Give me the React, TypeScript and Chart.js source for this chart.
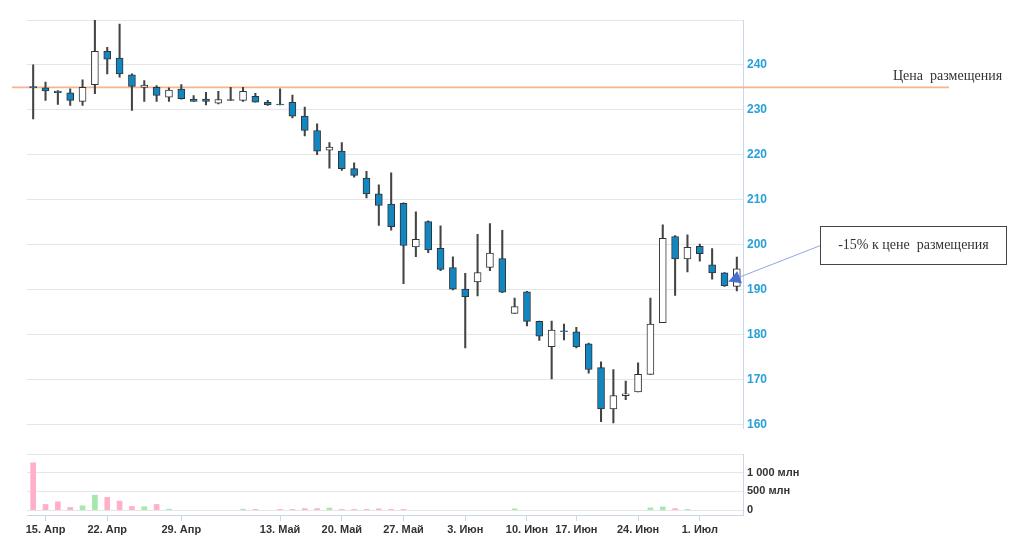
import React, { useEffect, useRef } from "react";
import { Chart, registerables } from "chart.js";

Chart.register(...registerables);

// ---- data ----
const dates = [
  "12. Апр", "15. Апр", "16. Апр", "17. Апр", "18. Апр", "19. Апр", "22. Апр", "23. Апр", "24. Апр", "25. Апр",
  "26. Апр", "27. Апр", "29. Апр", "30. Апр", "2. Май", "3. Май", "6. Май", "7. Май", "8. Май", "10. Май",
  "13. Май", "14. Май", "15. Май", "16. Май", "17. Май", "20. Май", "21. Май", "22. Май", "23. Май", "24. Май",
  "27. Май", "28. Май", "29. Май", "30. Май", "31. Май", "3. Июн", "4. Июн", "5. Июн", "6. Июн", "7. Июн",
  "10. Июн", "11. Июн", "13. Июн", "14. Июн", "17. Июн", "18. Июн", "19. Июн", "20. Июн", "21. Июн", "24. Июн",
  "25. Июн", "26. Июн", "27. Июн", "28. Июн", "1. Июл", "2. Июл", "3. Июл", "4. Июл",
];

const opens = [
  235.2, 234.9, 234.2, 233.8, 231.9, 235.6, 243.0, 241.5, 237.8, 235.0,
  235.0, 232.8, 234.6, 232.4, 232.4, 231.5, 232.3, 232.1, 233.0, 231.7,
  231.3, 231.7, 228.6, 225.4, 221.0, 220.8, 216.9, 214.8, 211.3, 209.0,
  209.2, 199.5, 205.1, 199.2, 194.9, 190.1, 191.7, 194.9, 196.9, 184.7,
  189.5, 182.9, 177.3, 180.8, 180.6, 177.9, 172.6, 163.4, 166.4, 167.2,
  171.1, 182.6, 201.8, 196.8, 199.6, 195.5, 193.7, 190.7,
];
const highs = [
  240.0, 236.2, 234.3, 234.7, 236.7, 250.2, 243.9, 249.1, 238.0, 236.5,
  235.4, 234.9, 235.6, 233.2, 233.9, 234.1, 235.0, 235.0, 233.7, 232.1,
  234.7, 233.3, 230.6, 226.9, 222.7, 222.7, 218.2, 216.3, 213.3, 216.0,
  209.3, 207.3, 205.3, 204.2, 197.3, 193.6, 202.3, 204.7, 203.2, 188.1,
  189.6, 183.0, 183.0, 182.3, 181.6, 178.1, 173.9, 172.2, 169.6, 173.7,
  188.1, 204.4, 202.0, 202.2, 200.1, 199.1, 193.8, 197.2,
];
const lows = [
  228.0, 232.1, 231.2, 231.0, 231.0, 233.6, 238.0, 237.3, 229.9, 231.9,
  231.9, 231.9, 232.4, 231.9, 231.1, 231.3, 232.1, 231.9, 231.7, 231.0,
  231.1, 228.2, 224.2, 220.0, 217.0, 216.5, 215.0, 210.4, 204.3, 203.2,
  191.3, 197.3, 198.2, 194.2, 189.9, 177.0, 188.6, 194.2, 189.3, 184.7,
  181.9, 178.7, 170.1, 178.8, 177.0, 171.4, 160.6, 160.3, 165.5, 167.2,
  171.1, 182.6, 188.7, 193.9, 196.3, 192.3, 190.7, 189.7,
];
const closes = [
  234.9, 234.2, 233.8, 232.1, 235.0, 243.0, 241.3, 238.0, 235.2, 235.5,
  233.2, 234.4, 232.5, 231.9, 231.9, 232.3, 232.1, 234.1, 231.7, 231.1,
  231.1, 228.6, 225.4, 220.8, 221.7, 216.9, 215.4, 211.3, 208.7, 204.0,
  199.8, 201.2, 198.8, 194.5, 190.1, 188.4, 193.8, 198.1, 189.4, 186.2,
  182.9, 179.6, 181.0, 180.6, 177.2, 172.2, 163.4, 166.4, 166.8, 171.1,
  182.3, 201.4, 196.8, 199.4, 198.0, 193.7, 190.8, 194.6,
];
// volume, млн (null = no visible bar)
const volumes = [
  1265, 152, 222, 72, 115, 400, 340, 240, 98, 90,
  152, 25, null, null, null, null, null, 25, 20, null,
  20, 20, 40, 40, 55, 20, 20, 20, 35, 20,
  20, null, null, null, null, null, null, null, null, 35,
  null, null, null, null, null, null, null, null, null, null,
  60, 85, 40, 20, null, null, null, null,
];

const shownDates = ["15. Апр", "22. Апр", "29. Апр", "13. Май", "20. Май", "27. Май", "3. Июн", "10. Июн", "17. Июн", "24. Июн", "1. Июл"];
const priceTicks = [160, 170, 180, 190, 200, 210, 220, 230, 240, 250];
const volumeTicks = [0, 500, 1000, 1500];
const volumeTickLabels = ["0", "500 млн", "1 000 млн", ""];
const placementPrice = 235;
const placementLabel = "Цена  размещения";
const calloutLabel = "-15% к цене  размещения";
const calloutIndex = 56;
const calloutPrice = 191.8;

// ---- styles ----
const UP_FILL = "#ffffff";
const DOWN_FILL = "#1186c1";
const CANDLE_LINE = "#333333";
const WICK = "#444444";
const GRID = "#e6e6e6";
const AXIS = "#ccd6eb";
const PRICE_LABEL = "#27a0d9";
const DARK = "#333333";
const VOL_UP = "#a3e9ad";
const VOL_DOWN = "#ffb0c8";
const ORANGE = "#f5b58e";

const SANS = "'Liberation Sans', Arial, sans-serif";
const SERIF = "'Liberation Serif', 'Times New Roman', serif";

const AXIS_W = 60;
const PAD_LEFT = 27;
const PAD_RIGHT = 1024 - 743 - AXIS_W;

export default function App() {
  const priceRef = useRef<HTMLCanvasElement | null>(null);
  const volRef = useRef<HTMLCanvasElement | null>(null);

  useEffect(() => {
    Chart.defaults.font.family = SANS;

    const overlay = {
      id: "overlay",
      beforeDatasetsDraw(chart: any) {
        const ctx = chart.ctx;
        const y = chart.scales.y;
        const py = y.getPixelForValue(placementPrice);
        ctx.save();
        ctx.strokeStyle = ORANGE;
        ctx.lineWidth = 1.6;
        ctx.beginPath();
        ctx.moveTo(12, py);
        ctx.lineTo(949, py);
        ctx.stroke();
        ctx.restore();
      },
      afterDraw(chart: any) {
        const ctx = chart.ctx;
        const x = chart.scales.x;
        const y = chart.scales.y;
        const py = y.getPixelForValue(placementPrice);
        ctx.save();
        ctx.fillStyle = DARK;
        ctx.font = `14px ${SERIF}`;
        ctx.textAlign = "left";
        ctx.textBaseline = "middle";
        ctx.fillText(placementLabel, 893, py - 11);

        // callout box
        const bx = 820.5, by = 226.5, bw = 186, bh = 38;
        const tipX = x.getPixelForValue(calloutIndex) + 4;
        const tipY = y.getPixelForValue(calloutPrice);
        const sx = bx, sy = by + bh / 2;
        ctx.strokeStyle = "#8ea7e4";
        ctx.lineWidth = 1;
        ctx.beginPath();
        ctx.moveTo(sx, sy);
        ctx.lineTo(tipX, tipY);
        ctx.stroke();
        const ang = Math.atan2(tipY - sy, tipX - sx);
        const L = 12, W = 6.5;
        const baseX = tipX - L * Math.cos(ang);
        const baseY = tipY - L * Math.sin(ang);
        ctx.fillStyle = "#4a6fd0";
        ctx.beginPath();
        ctx.moveTo(tipX, tipY);
        ctx.lineTo(baseX + W * Math.sin(ang), baseY - W * Math.cos(ang));
        ctx.lineTo(baseX - W * Math.sin(ang), baseY + W * Math.cos(ang));
        ctx.closePath();
        ctx.fill();

        ctx.fillStyle = "#ffffff";
        ctx.fillRect(bx, by, bw, bh);
        ctx.strokeStyle = "#444444";
        ctx.lineWidth = 1;
        ctx.strokeRect(bx, by, bw, bh);
        ctx.fillStyle = DARK;
        ctx.textAlign = "center";
        ctx.fillText(calloutLabel, bx + bw / 2, by + bh / 2);
        ctx.restore();
      },
    };

    const priceChart = new Chart(priceRef.current as HTMLCanvasElement, {
      type: "bar",
      data: {
        labels: dates,
        datasets: [
          {
            label: "wick",
            data: lows.map((l, i) => [l, highs[i]]) as any,
            backgroundColor: WICK,
            barThickness: 1.4,
            grouped: false,
            order: 2,
          } as any,
          {
            label: "body",
            data: opens.map((o, i) => [o, closes[i]]) as any,
            backgroundColor: opens.map((o, i) => (closes[i] >= o ? UP_FILL : DOWN_FILL)),
            borderColor: CANDLE_LINE,
            borderWidth: 1,
            borderSkipped: false,
            barThickness: 7,
            grouped: false,
            order: 1,
          } as any,
        ],
      },
      options: {
        animation: false,
        responsive: false,
        layout: { padding: { left: PAD_LEFT, right: PAD_RIGHT, top: 20, bottom: 10.5 } },
        plugins: { legend: { display: false }, tooltip: { enabled: false } },
        scales: {
          x: { type: "category", display: false, offset: true },
          y: {
            position: "right",
            min: 159,
            max: 250,
            afterBuildTicks: (s: any) => {
              s.ticks = priceTicks.map((v) => ({ value: v }));
            },
            afterFit: (s: any) => {
              s.width = AXIS_W;
            },
            grid: { color: GRID, drawTicks: false },
            border: { display: true, color: AXIS },
            ticks: {
              padding: 4,
              color: PRICE_LABEL,
              font: { size: 12, weight: "bold" },
              callback: (v: any) => (v === 250 ? "" : String(v)),
            },
          },
        },
      } as any,
      plugins: [overlay],
    });

    const volChart = new Chart(volRef.current as HTMLCanvasElement, {
      type: "bar",
      data: {
        labels: dates,
        datasets: [
          {
            label: "volume",
            data: volumes as any,
            backgroundColor: opens.map((o, i) => (closes[i] >= o ? VOL_UP : VOL_DOWN)),
            barThickness: 5,
          },
        ],
      },
      options: {
        animation: false,
        responsive: false,
        layout: { padding: { left: PAD_LEFT, right: PAD_RIGHT, top: 14, bottom: 0 } },
        plugins: { legend: { display: false }, tooltip: { enabled: false } },
        scales: {
          x: {
            type: "category",
            offset: true,
            afterFit: (s: any) => {
              s.height = 38;
            },
            grid: {
              offset: false,
              drawOnChartArea: false,
              drawTicks: true,
              tickLength: 6,
              tickColor: (c: any) => (shownDates.includes(dates[c.index]) ? AXIS : "rgba(0,0,0,0)"),
            },
            border: { display: true, color: AXIS },
            ticks: {
              autoSkip: false,
              maxRotation: 0,
              padding: 2,
              color: DARK,
              font: { size: 11, weight: "bold" },
              callback: (_v: any, i: number) => (shownDates.includes(dates[i]) ? dates[i] : ""),
            },
          },
          y: {
            position: "right",
            min: -130,
            max: 1500,
            afterBuildTicks: (s: any) => {
              s.ticks = volumeTicks.map((v) => ({ value: v }));
            },
            afterFit: (s: any) => {
              s.width = AXIS_W;
            },
            grid: { color: GRID, drawTicks: false },
            border: { display: true, color: AXIS },
            ticks: {
              padding: 4,
              color: DARK,
              font: { size: 11, weight: "bold" },
              callback: (v: any) => {
                const k = volumeTicks.indexOf(v);
                return k >= 0 ? volumeTickLabels[k] : "";
              },
            },
          },
        },
      } as any,
    });

    return () => {
      priceChart.destroy();
      volChart.destroy();
    };
  }, []);

  return (
    <div style={{ position: "absolute", left: 0, top: 0, width: 1024, height: 553, background: "#ffffff", overflow: "hidden" }}>
      <canvas ref={priceRef} width={1024} height={440} style={{ position: "absolute", left: 0, top: 0 }} />
      <canvas ref={volRef} width={1024} height={113} style={{ position: "absolute", left: 0, top: 440 }} />
    </div>
  );
}
